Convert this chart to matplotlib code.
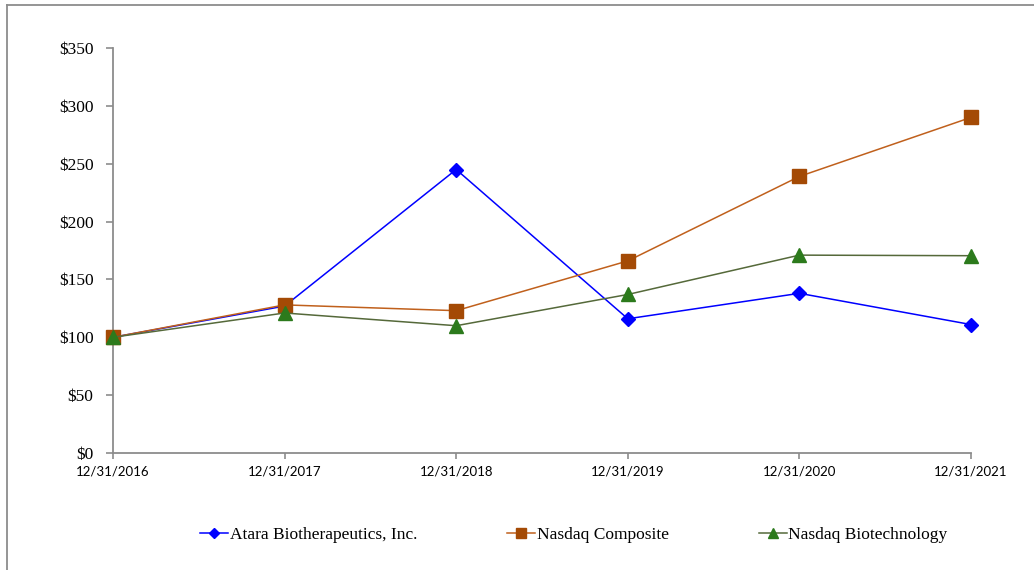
import matplotlib
matplotlib.use("Agg")
import matplotlib.pyplot as plt
from matplotlib.lines import Line2D

dates = ["12/31/2016", "12/31/2017", "12/31/2018", "12/31/2019", "12/31/2020", "12/31/2021"]
atara = [100, 127, 245, 116, 138, 111]
nasdaq_comp = [100, 128, 123, 166, 239, 290]
nasdaq_bio = [100, 121, 110, 137, 171, 170.5]
y_ticks = [0, 50, 100, 150, 200, 250, 300, 350]

fig = plt.figure(figsize=(10.34, 5.70), dpi=100)
ax = fig.add_axes([113 / 1034, 1 - 453 / 570, (971 - 113) / 1034, (453 - 48) / 570])

x = list(range(len(dates)))
ax.plot(x, atara, color="#0000FF", lw=1.1, marker="D", ms=7, clip_on=False,
        mfc="#0000FF", mec="#0000FF", label="Atara Biotherapeutics, Inc.", zorder=2)
ax.plot(x, nasdaq_comp, color="#C0601C", lw=1.1, marker="s", ms=10, clip_on=False,
        mfc="#A44A05", mec="#A44A05", label="Nasdaq Composite", zorder=3)
ax.plot(x, nasdaq_bio, color="#55693A", lw=1.1, marker="^", ms=10, clip_on=False,
        mfc="#2C7A1C", mec="#2C7A1C", label="Nasdaq Biotechnology", zorder=4)

ax.set_xlim(0, len(dates) - 1)
ax.set_ylim(0, 350)
ax.set_yticks(y_ticks)
ax.set_yticklabels(["$%d" % v for v in y_ticks], fontfamily="Liberation Serif", fontsize=12.5)
ax.set_xticks(x)
ax.set_xticklabels(dates, fontfamily="Lato", fontsize=9.5)

for s in ["top", "right"]:
    ax.spines[s].set_visible(False)
for s in ["left", "bottom"]:
    ax.spines[s].set_color("#8C8C8C")
    ax.spines[s].set_linewidth(1.3)
ax.tick_params(axis="y", direction="out", length=5, color="#8C8C8C", width=1.2, pad=9)
ax.tick_params(axis="x", direction="out", length=4, color="#8C8C8C", width=1.2, pad=5)

leg = fig.legend(loc="center", bbox_to_anchor=(0.555, 1 - 535 / 570), ncol=3, frameon=False,
                 prop={"family": "Liberation Serif", "size": 12.5},
                 handlelength=1.6, handletextpad=0.1, columnspacing=5.2, markerscale=0.75)

# outer border (left and top edges visible)
fig.add_artist(Line2D([7 / 1034, 7 / 1034], [0, 1 - 5 / 570], transform=fig.transFigure,
                      color="#8C8C8C", lw=1.3))
fig.add_artist(Line2D([7 / 1034, 1], [1 - 5 / 570, 1 - 5 / 570], transform=fig.transFigure,
                      color="#8C8C8C", lw=1.3))

fig.savefig("out.png", dpi=100)
